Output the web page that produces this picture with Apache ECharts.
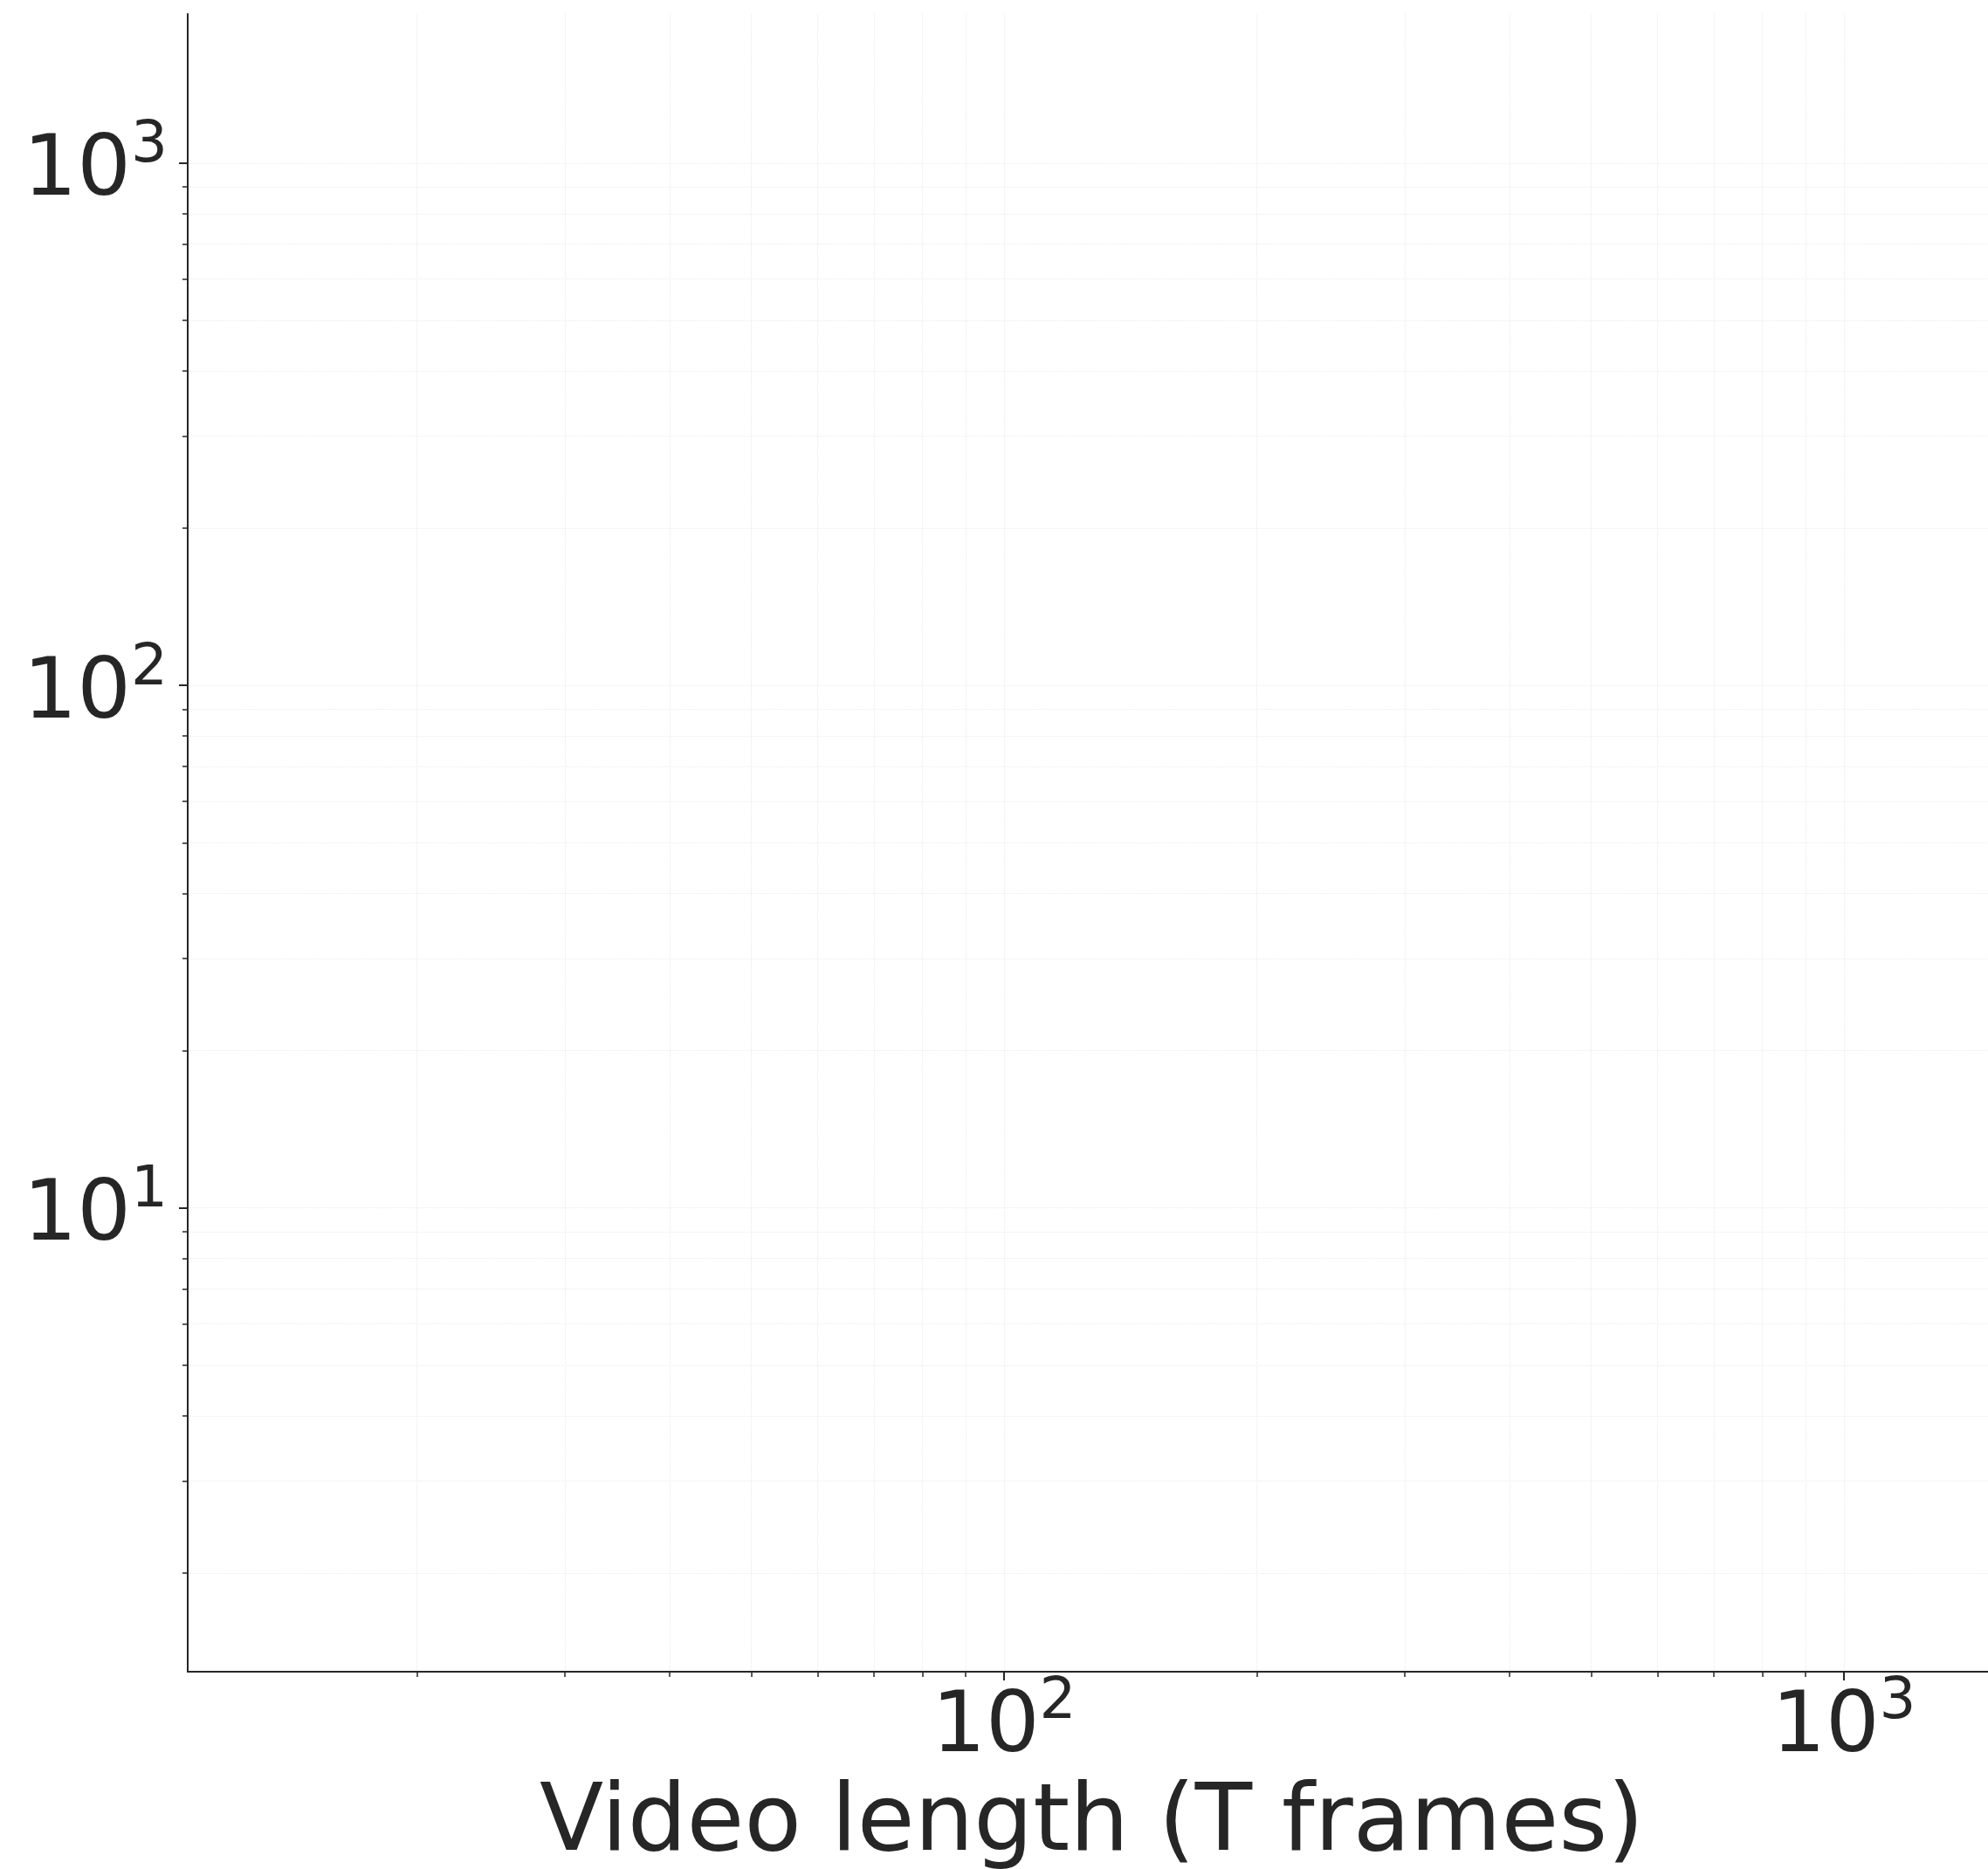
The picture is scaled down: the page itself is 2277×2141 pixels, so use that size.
<!DOCTYPE html>
<html>
<head>
<meta charset="utf-8">
<script src="https://cdn.jsdelivr.net/npm/echarts@6/dist/echarts.min.js"></script>
<style>
html,body{margin:0;padding:0;background:#ffffff;}
#chart{width:2277px;height:2141px;}
</style>
</head>
<body>
<div id="chart"></div>
<script>
// ---- data ----
const xTitle = 'Video length (T frames)';
const xRange = [10.67, 1517];
const yRange = [1.295, 1929];
const xMajorTicks = [100, 1000];
const xMinorTicks = [20, 30, 40, 50, 60, 70, 80, 90, 200, 300, 400, 500, 600, 700, 800, 900];
const yMajorTicks = [10, 100, 1000];
const yMinorTicks = [2, 3, 4, 5, 6, 7, 8, 9, 20, 30, 40, 50, 60, 70, 80, 90, 200, 300, 400, 500, 600, 700, 800, 900];
const seriesPoints = []; // the reference axes contain no plotted marks

// ---- styling ----
const FONT = 'DejaVu Sans';
const INK = '#262626';
const GRID = '#ebebeb';

function powLabel(v) {
  return '{b|10}{s|' + Math.round(Math.log10(v)) + '}';
}
const rich = {
  b: { fontFamily: FONT, fontSize: 97, lineHeight: 126, color: INK, verticalAlign: 'middle' },
  s: { fontFamily: FONT, fontSize: 66, lineHeight: 66, color: INK, verticalAlign: 'top' }
};
const splitStyle = { show: true, lineStyle: { color: GRID, type: 'dotted', width: 1.2 } };

const chart = echarts.init(document.getElementById('chart'), null, { renderer: 'canvas' });
chart.setOption({
  backgroundColor: '#ffffff',
  animation: false,
  grid: { left: 215, top: 16, bottom: 226, right: -9, outerBoundsMode: 'none', containLabel: false },
  xAxis: [
    {
      type: 'log', logBase: 10, min: xRange[0], max: xRange[1], position: 'bottom',
      name: xTitle, nameLocation: 'middle', nameGap: 123,
      nameTextStyle: { fontFamily: FONT, fontSize: 107, color: INK, lineHeight: 107 },
      axisLine: { show: true, lineStyle: { color: INK, width: 2 } },
      axisTick: { show: true, length: 10, customValues: xMajorTicks, lineStyle: { color: INK, width: 2 } },
      axisLabel: { show: true, customValues: xMajorTicks, formatter: powLabel, rich: rich, margin: 3 },
      splitLine: splitStyle,
      minorTick: { show: false }, minorSplitLine: { show: false }, z: 3
    },
    {
      type: 'log', logBase: 10, min: xRange[0], max: xRange[1], position: 'bottom',
      axisLine: { show: false },
      axisTick: { show: true, length: 6, customValues: xMinorTicks, lineStyle: { color: INK, width: 1.5 } },
      axisLabel: { show: false },
      splitLine: splitStyle,
      minorTick: { show: false }, minorSplitLine: { show: false }, z: 2
    }
  ],
  yAxis: [
    {
      type: 'log', logBase: 10, min: yRange[0], max: yRange[1], position: 'left',
      axisLine: { show: true, lineStyle: { color: INK, width: 2 } },
      axisTick: { show: true, length: 10, customValues: yMajorTicks, lineStyle: { color: INK, width: 2 } },
      axisLabel: { show: true, customValues: yMajorTicks, formatter: powLabel, rich: rich, margin: 23, padding: [23, 0, 0, 0] },
      splitLine: splitStyle,
      minorTick: { show: false }, minorSplitLine: { show: false }, z: 3
    },
    {
      type: 'log', logBase: 10, min: yRange[0], max: yRange[1], position: 'left',
      axisLine: { show: false },
      axisTick: { show: true, length: 6, customValues: yMinorTicks, lineStyle: { color: INK, width: 1.5 } },
      axisLabel: { show: false },
      splitLine: splitStyle,
      minorTick: { show: false }, minorSplitLine: { show: false }, z: 2
    }
  ],
  series: [
    { type: 'scatter', xAxisIndex: 0, yAxisIndex: 0, data: seriesPoints, symbolSize: 10 }
  ]
});
</script>
</body>
</html>
